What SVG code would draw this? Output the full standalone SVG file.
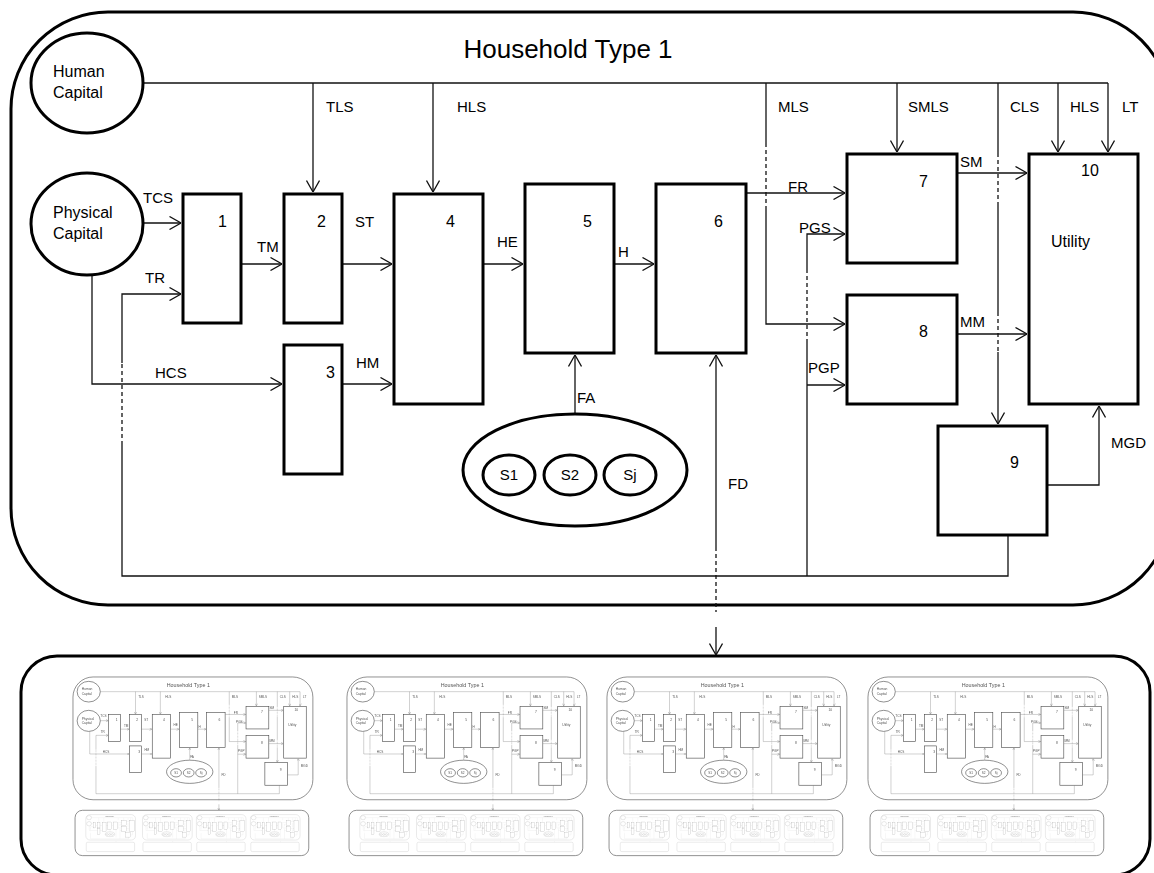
<svg xmlns="http://www.w3.org/2000/svg" xmlns:xlink="http://www.w3.org/1999/xlink" width="1154" height="873" viewBox="0 0 1154 873">
<style>
text{font-family:"Liberation Sans",Arial,sans-serif;fill:#000}
.t{font-size:26px}
.lb{font-size:15px}
.nl{font-size:16px}
.box{fill:#fff;stroke:#000;stroke-width:3}
.ell{fill:#fff;stroke:#000;stroke-width:3}
.frame{fill:none;stroke:#000;stroke-width:3}
.ln{fill:none;stroke:#111;stroke-width:1.3}
.ar{marker-end:url(#arr)}
.da{stroke-dasharray:4 3}
.thumb{opacity:0.7}
</style>
<defs>
<filter id="soft" x="-2%" y="-2%" width="104%" height="104%">
<feGaussianBlur stdDeviation="0.55"/>
</filter>
<marker id="arr" viewBox="0 0 12 14" refX="12" refY="7" markerWidth="12" markerHeight="14" markerUnits="userSpaceOnUse" orient="auto">
<path d="M0.5,0.5 L12,7 L0.5,13.5" fill="none" stroke="#111" stroke-width="1.3"/>
</marker>
<g id="thumbs2">
<use xlink:href="#core" href="#core" transform="translate(70.7,674.5) scale(0.207)"/>
<use xlink:href="#core" href="#core" transform="translate(344.7,674.5) scale(0.207)"/>
<use xlink:href="#core" href="#core" transform="translate(604.7,674.5) scale(0.207)"/>
<use xlink:href="#core" href="#core" transform="translate(865.7,674.5) scale(0.207)"/>
</g>
</defs>
<rect width="1154" height="873" fill="#fff"/>
<g id="core">
<g id="household-frame">
<rect class="frame" x="11" y="12" width="1159" height="593" rx="97" ry="97"/>
<text class="t" x="568" y="58" text-anchor="middle">Household Type 1</text>
</g>
<g id="others-frame">
<rect class="frame" x="21" y="656" width="1129" height="219" rx="36" ry="36"/>
</g>
<g id="connectors">
<path class="ln" d="M143,83 H1108"/>
<path class="ln ar" d="M313,83 V192"/>
<path class="ln ar" d="M433,83 V192"/>
<path class="ln ar" d="M897,83 V152"/>
<path class="ln ar" d="M1058,83 V152"/>
<path class="ln ar" d="M1108,83 V152"/>
<path class="ln" d="M766,83 V143"/>
<path class="ln da" d="M766,143 V210"/>
<path class="ln ar" d="M766,210 V324 H845"/>
<path class="ln" d="M998,83 V153"/>
<path class="ln da" d="M998,153 V203"/>
<path class="ln" d="M998,203 V312"/>
<path class="ln da" d="M998,312 V352"/>
<path class="ln ar" d="M998,352 V424"/>
<path class="ln ar" d="M143,223 H181"/>
<path class="ln ar" d="M242,264 H282"/>
<path class="ln ar" d="M343,264 H392"/>
<path class="ln ar" d="M484,264 H523"/>
<path class="ln ar" d="M615,264 H654"/>
<path class="ln ar" d="M747,193 H845"/>
<path class="ln ar" d="M958,173 H1027"/>
<path class="ln ar" d="M958,334 H1027"/>
<path class="ln ar" d="M92,275 V384 H282"/>
<path class="ln ar" d="M343,384 H392"/>
<path class="ln ar" d="M575,415 V355"/>
<path class="ln ar" d="M716,547 V355"/>
<path class="ln da" d="M716,547 V612"/>
<path class="ln ar" d="M716,627 V655"/>
<path class="ln" d="M1008,536 V576 H122 V445"/>
<path class="ln da" d="M122,445 V363"/>
<path class="ln ar" d="M122,363 V294 H181"/>
<path class="ln" d="M807,576 V343"/>
<path class="ln da" d="M807,343 V273"/>
<path class="ln ar" d="M807,273 V234 H845"/>
<path class="ln ar" d="M807,385 H845"/>
<path class="ln ar" d="M1048,485 H1099 V406"/>
<text class="lb" x="143" y="203">TCS</text>
<text class="lb" x="145" y="283">TR</text>
<text class="lb" x="257" y="252">TM</text>
<text class="lb" x="355" y="227">ST</text>
<text class="lb" x="326" y="112">TLS</text>
<text class="lb" x="457" y="112">HLS</text>
<text class="lb" x="155" y="378">HCS</text>
<text class="lb" x="356" y="368">HM</text>
<text class="lb" x="497" y="247">HE</text>
<text class="lb" x="618" y="257">H</text>
<text class="lb" x="577" y="403">FA</text>
<text class="lb" x="728" y="489">FD</text>
<text class="lb" x="788" y="192">FR</text>
<text class="lb" x="778" y="112">MLS</text>
<text class="lb" x="908" y="112">SMLS</text>
<text class="lb" x="799" y="233">PGS</text>
<text class="lb" x="808" y="373">PGP</text>
<text class="lb" x="960" y="167">SM</text>
<text class="lb" x="960" y="327">MM</text>
<text class="lb" x="1010" y="112">CLS</text>
<text class="lb" x="1070" y="112">HLS</text>
<text class="lb" x="1122" y="112">LT</text>
<text class="lb" x="1111" y="448">MGD</text>
</g>
<g id="human-capital">
<ellipse class="ell" cx="87" cy="83" rx="56" ry="50"/>
<text class="nl" x="53" y="77">Human</text>
<text class="nl" x="53" y="98">Capital</text>
</g>
<g id="physical-capital">
<ellipse class="ell" cx="87" cy="224" rx="56" ry="51"/>
<text class="nl" x="53" y="218">Physical</text>
<text class="nl" x="53" y="239">Capital</text>
</g>
<g id="n1"><rect class="box" x="183" y="194" width="58" height="129"/><text class="nl" x="218" y="227">1</text></g>
<g id="n2"><rect class="box" x="284" y="194" width="58" height="129"/><text class="nl" x="317" y="227">2</text></g>
<g id="n3"><rect class="box" x="284" y="345" width="58" height="129"/><text class="nl" x="326" y="378">3</text></g>
<g id="n4"><rect class="box" x="394" y="194" width="89" height="210"/><text class="nl" x="446" y="227">4</text></g>
<g id="n5"><rect class="box" x="525" y="184" width="89" height="169"/><text class="nl" x="583" y="227">5</text></g>
<g id="n6"><rect class="box" x="656" y="184" width="90" height="169"/><text class="nl" x="714" y="227">6</text></g>
<g id="n7"><rect class="box" x="847" y="154" width="110" height="109"/><text class="nl" x="919" y="187">7</text></g>
<g id="n8"><rect class="box" x="847" y="295" width="110" height="109"/><text class="nl" x="919" y="337">8</text></g>
<g id="n9"><rect class="box" x="938" y="426" width="109" height="109"/><text class="nl" x="1010" y="468">9</text></g>
<g id="n10"><rect class="box" x="1029" y="154" width="109" height="250"/><text class="nl" x="1081" y="176">10</text><text class="nl" x="1051" y="247">Utility</text></g>
<g id="sectors">
<ellipse class="ell" cx="575" cy="470" rx="112" ry="56"/>
<ellipse class="ell" cx="509" cy="475" rx="26" ry="20"/>
<ellipse class="ell" cx="570" cy="475" rx="26" ry="20"/>
<ellipse class="ell" cx="630" cy="475" rx="26" ry="20"/>
<text class="lb" x="509" y="480" text-anchor="middle">S1</text>
<text class="lb" x="570" y="480" text-anchor="middle">S2</text>
<text class="lb" x="630" y="480" text-anchor="middle">Sj</text>
</g>
</g>
<g id="other-households" class="thumb" filter="url(#soft)">
<g transform="translate(70.7,674.5) scale(0.207)"><use xlink:href="#core" href="#core"/><use xlink:href="#thumbs2" href="#thumbs2"/></g>
<g transform="translate(344.7,674.5) scale(0.207)"><use xlink:href="#core" href="#core"/><use xlink:href="#thumbs2" href="#thumbs2"/></g>
<g transform="translate(604.7,674.5) scale(0.207)"><use xlink:href="#core" href="#core"/><use xlink:href="#thumbs2" href="#thumbs2"/></g>
<g transform="translate(865.7,674.5) scale(0.207)"><use xlink:href="#core" href="#core"/><use xlink:href="#thumbs2" href="#thumbs2"/></g>
</g>
</svg>
